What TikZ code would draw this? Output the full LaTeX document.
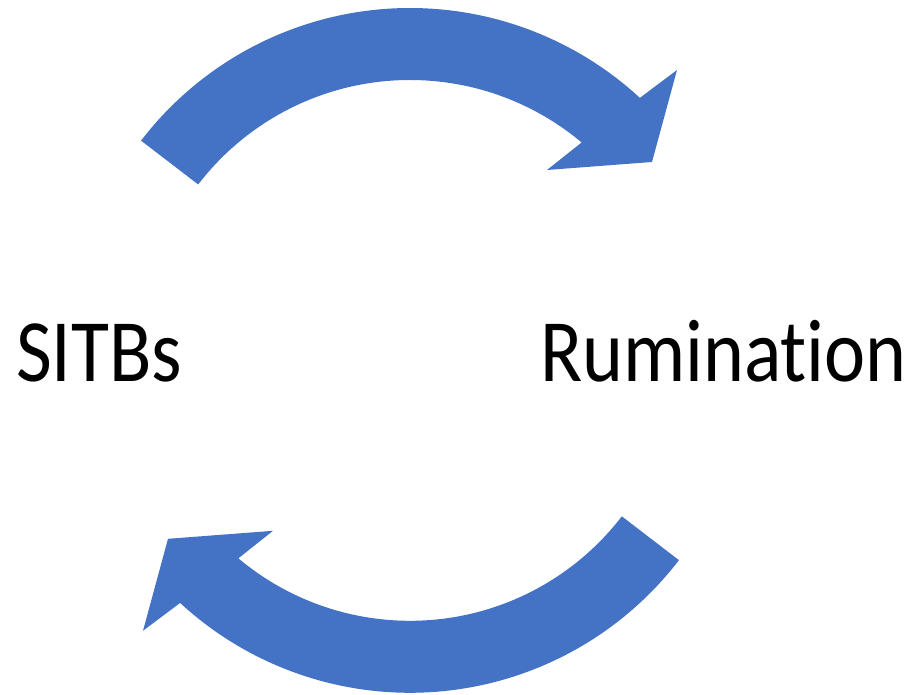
\documentclass[tikz,border=0pt]{standalone}
\usepackage{fontspec}
\setmainfont{Carlito}[Ligatures={NoCommon}]
\definecolor{officeblue}{HTML}{4472C4}
\newcommand{\cyclearrowshape}{%
  \fill[arrowfill] ([shift={(410,347)}]142.5:339) arc[start angle=142.5,end angle=47.3,radius=339]
    -- (677,624) -- (652,532) -- (547,524)
    -- ([shift={(410,347)}]50:267) arc[start angle=50,end angle=142.5,radius=267] -- cycle;}
\begin{document}
\begin{tikzpicture}[x=1pt,y=1pt,
  arrowfill/.style={fill=officeblue},
  label/.style={inner sep=0pt,font=\fontsize{89}{100}\selectfont,text=black,xscale=0.875,transform shape}]
\useasboundingbox (0,0) rectangle (909,694);
\cyclearrowshape
\begin{scope}[rotate around={180:(410,343.6)}]
\cyclearrowshape
\end{scope}
\node[label,anchor=base west] (sitbs) at (16,312.3) {SITBs};
\node[label,anchor=base east] (rum) at (907,312.3) {Rumination};
\end{tikzpicture}
\end{document}
